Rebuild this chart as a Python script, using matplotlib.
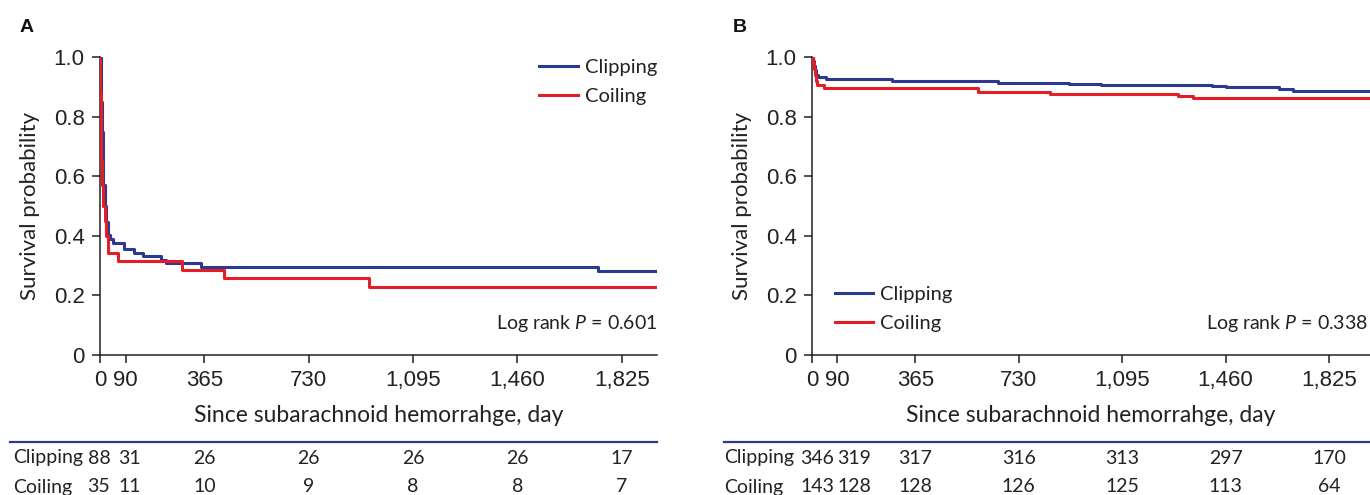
import matplotlib
matplotlib.use("Agg")
import matplotlib.pyplot as plt
from matplotlib import transforms
from matplotlib.lines import Line2D

plt.rcParams['mathtext.fontset'] = 'custom'
plt.rcParams['mathtext.rm'] = 'Lato'
plt.rcParams['mathtext.it'] = 'Lato:italic'

# ---------------- data ----------------
tick_days = [0, 90, 365, 730, 1095, 1460, 1825]
tick_labels = ['0', '90', '365', '730', '1,095', '1,460', '1,825']
ytick_vals = [0, 0.2, 0.4, 0.6, 0.8, 1.0]
ytick_labels = ['0', '0.2', '0.4', '0.6', '0.8', '1.0']

# Panel A
a_clip_t = [0, 2, 4, 6, 9, 12, 16, 21, 28, 35, 44, 85, 120, 152, 214, 232, 354, 1740, 1948]
a_clip_s = [1.0, 0.93, 0.85, 0.75, 0.65, 0.57, 0.50, 0.447, 0.403, 0.39, 0.377, 0.355, 0.343,
            0.332, 0.319, 0.308, 0.296, 0.282, 0.282]
a_coil_t = [0, 1, 3, 5, 8, 12, 16, 21, 29, 64, 287, 433, 941, 1948]
a_coil_s = [1.0, 0.88, 0.75, 0.65, 0.57, 0.50, 0.45, 0.40, 0.343, 0.314, 0.286, 0.257, 0.229, 0.229]
a_risk_clip = [88, 31, 26, 26, 26, 26, 17]
a_risk_coil = [35, 11, 10, 9, 8, 8, 7]
a_p = "0.601"

# Panel B
b_clip_t = [0, 3, 6, 10, 15, 22, 48, 282, 655, 908, 925, 1022, 1187, 1411, 1461, 1650, 1699, 1970]
b_clip_s = [1.0, 0.985, 0.97, 0.955, 0.94, 0.932, 0.925, 0.919, 0.914, 0.911, 0.909, 0.907,
            0.905, 0.902, 0.898, 0.893, 0.887, 0.887]
b_coil_t = [0, 3, 6, 10, 14, 18, 43, 587, 840, 1293, 1346, 1970]
b_coil_s = [1.0, 0.98, 0.96, 0.94, 0.92, 0.905, 0.895, 0.884, 0.877, 0.870, 0.863, 0.863]
b_risk_clip = [346, 319, 317, 316, 313, 297, 170]
b_risk_coil = [143, 128, 128, 126, 125, 113, 64]
b_p = "0.338"

groups = ['Clipping', 'Coiling']

# ---------------- style ----------------
BLUE = '#2b3990'
RED = '#e31e26'
AX = '#231f20'
W, H = 1370, 495
fig = plt.figure(figsize=(W / 100, H / 100), dpi=100)

TXT = 'Lato'
TICKF = 'Liberation Sans'
FS = 14.5
TFS = 16


def fx(px):
    return px / W


def fy(py):
    return 1 - py / H


def make_panel(left_px, right_px, xmax, clip_t, clip_s, coil_t, coil_s,
               risk_clip, risk_coil, pval, letter, letter_px, legend_kw,
               p_x, row_label_px, line_left_px, off0, off90):
    ax = fig.add_axes([fx(left_px), fy(355), fx(right_px - left_px), (355 - 57) / H])
    ax.step(clip_t, clip_s, where='post', color=BLUE, lw=2.2, label=groups[0], zorder=3)
    ax.step(coil_t, coil_s, where='post', color=RED, lw=2.2, label=groups[1], zorder=3)
    ax.set_xlim(0, xmax)
    ax.set_ylim(0, 1.0)
    ax.set_xticks(tick_days)
    ax.set_xticklabels(tick_labels, fontfamily=TICKF, fontsize=TFS)
    ax.set_yticks(ytick_vals)
    ax.set_yticklabels(ytick_labels, fontfamily=TICKF, fontsize=TFS)
    ax.tick_params(axis='both', direction='out', length=6, width=1.1, color=AX,
                   labelcolor='#222222')
    ax.tick_params(axis='x', pad=5)
    ax.tick_params(axis='y', pad=5)
    for s in ['top', 'right']:
        ax.spines[s].set_visible(False)
    for s in ['left', 'bottom']:
        ax.spines[s].set_color(AX)
        ax.spines[s].set_linewidth(1.1)
    ax.set_xlabel('Since subarachnoid hemorrahge, day', fontfamily=TXT, fontsize=16.5,
                  color='#222222', labelpad=10)
    ax.set_ylabel('Survival probability', fontfamily=TXT, fontsize=16,
                  color='#222222', labelpad=10)
    leg = ax.legend(frameon=False, prop={'family': TXT, 'size': FS}, handlelength=1.9,
                    handletextpad=0.35, labelspacing=0.6, borderpad=0, borderaxespad=0,
                    **legend_kw)
    for t in leg.get_texts():
        t.set_color('#222222')
    ax.text(p_x, 0.107, r'Log rank $\it{P}$ = ' + pval, transform=ax.transAxes,
            ha='right', va='center', fontfamily=TXT, fontsize=14, color='#222222')
    fig.text(fx(letter_px), fy(28), letter, fontfamily=TICKF, fontweight='bold',
             fontsize=14, ha='left', va='center', color='#111111')

    # number at risk table
    fig.add_artist(Line2D([fx(line_left_px), fx(right_px)], [fy(442), fy(442)],
                          transform=fig.transFigure, color=BLUE, lw=1.6))
    blend = transforms.blended_transform_factory(ax.transData, fig.transFigure)
    for row_y, name, vals in [(458, groups[0], risk_clip), (487, groups[1], risk_coil)]:
        fig.text(fx(row_label_px), fy(row_y), name, fontfamily=TXT, fontsize=14,
                 ha='left', va='center', color='#222222')
        for i, (d, v) in enumerate(zip(tick_days, vals)):
            off = off0 if i == 0 else (off90 if i == 1 else 0)
            tr = transforms.offset_copy(blend, fig=fig, x=off, y=0, units='dots')
            fig.text(d, fy(row_y), str(v), transform=tr, fontfamily=TXT, fontsize=14,
                     ha='center', va='center', color='#222222')
    return ax


make_panel(100, 657, 1948, a_clip_t, a_clip_s, a_coil_t, a_coil_s,
           a_risk_clip, a_risk_coil, a_p, 'A', 20,
           dict(loc='upper right', bbox_to_anchor=(1.0, 0.995)),
           1.0, 13, 10, -1, 4)

make_panel(812, 1370, 1970, b_clip_t, b_clip_s, b_coil_t, b_coil_s,
           b_risk_clip, b_risk_coil, b_p, 'B', 733,
           dict(loc='lower left', bbox_to_anchor=(0.041, 0.077)),
           0.997, 724, 724, 5, 17)

fig.savefig('out.png', dpi=100)
